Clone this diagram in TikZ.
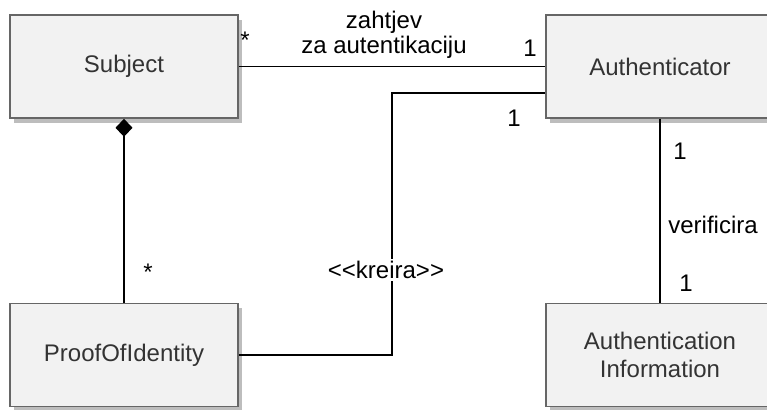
\documentclass[tikz,border=0pt]{standalone}
\usepackage{fontspec}
\setmainfont{Liberation Sans}
\usepackage{xcolor}
\definecolor{clsFill}{HTML}{F2F2F2}
\definecolor{clsLine}{HTML}{666666}
\definecolor{clsText}{HTML}{333333}
\definecolor{clsShadow}{HTML}{BDBDBD}
\usetikzlibrary{positioning}
\usetikzlibrary{arrows.meta}
\usetikzlibrary{shadows}

\begin{document}
\begin{tikzpicture}[
		cls/.style = { rectangle, draw = clsLine, line width = 0.8pt, fill = clsFill, text = clsText, minimum width = 114pt, minimum height = 51.5pt, align = center, font = \fontsize{12}{14}\selectfont, drop shadow = {shadow xshift = 2pt, shadow yshift = -2.5pt, fill = clsShadow, opacity = 1} },
		lbl/.style = { font = \fontsize{12}{12.5}\selectfont, inner sep = 1pt, align = center, text = black },
		assoc/.style = { draw, black, line width = 0.75pt },
		]
		\def\oneUnit{5pt}
		
		\useasboundingbox (0,0) rectangle (76.7*\oneUnit,-41*\oneUnit);
		
		\node[cls] (SUBJECT) at (12.4*\oneUnit,-6.65*\oneUnit) {Subject};
		\node[cls] (AUTH) at (66.0*\oneUnit,-6.65*\oneUnit) {Authenticator};
		\node[cls] (PROOF) at (12.4*\oneUnit,-35.5*\oneUnit) {ProofOfIdentity};
		\node[cls] (AUTHINFO) at (66.0*\oneUnit,-35.5*\oneUnit) {Authentication\\Information};
		
		\coordinate (KREIRAtop) at (39.2*\oneUnit,-9.3*\oneUnit);
		
		\path[assoc] (SUBJECT) edge [] (AUTH);
		\draw[assoc] (PROOF.east) -| (KREIRAtop) -- (KREIRAtop -| AUTH.west);
		\path[assoc] (SUBJECT.south) edge [{Diamond[length=9pt,width=8.5pt]}-] (PROOF.north);
		\path[assoc] (AUTH) edge [] (AUTHINFO);
		
		\node[lbl] (zahtjev) at (38.4*\oneUnit,-3.45*\oneUnit) {zahtjev\\za autentikaciju};
		\node[lbl, fill = white] (kreira) at (38.6*\oneUnit,-27.0*\oneUnit) {<{}<kreira>{}>};
		\node[lbl, anchor = west] (verificira) at (66.6*\oneUnit,-22.5*\oneUnit) {verificira};
		
		\node[lbl] (multSubject) at (24.5*\oneUnit,-4.0*\oneUnit) {*};
		\node[lbl] (multAuthA) at (53.0*\oneUnit,-4.8*\oneUnit) {1};
		\node[lbl] (multAuthB) at (51.4*\oneUnit,-11.8*\oneUnit) {1};
		\node[lbl] (multAuthC) at (68.0*\oneUnit,-15.1*\oneUnit) {1};
		\node[lbl] (multInfo) at (68.6*\oneUnit,-28.3*\oneUnit) {1};
		\node[lbl] (multProof) at (14.8*\oneUnit,-27.2*\oneUnit) {*};
		
\end{tikzpicture}
\end{document}
